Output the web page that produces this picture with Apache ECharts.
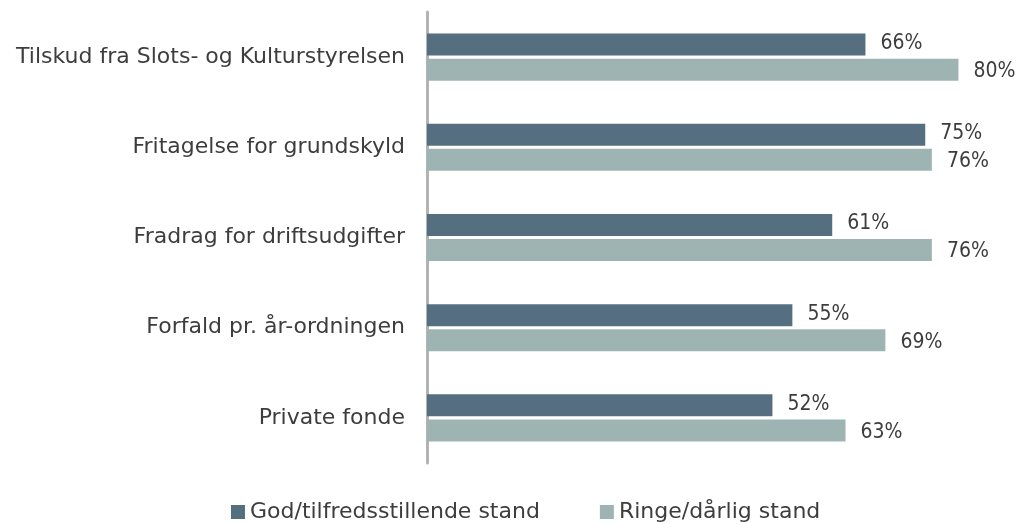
<!DOCTYPE html>
<html>
<head>
<meta charset="utf-8">
<script src="https://cdn.jsdelivr.net/npm/echarts@6/dist/echarts.min.js"></script>
<style>
	html, body { margin: 0; padding: 0; background: #fff; }
	#chart { width: 1016px; height: 524px; }
</style>
</head>
<body>
<div id="chart"></div>
<script>
var categories = ['Tilskud fra Slots- og Kulturstyrelsen', 'Fritagelse for grundskyld', 'Fradrag for driftsudgifter', 'Forfald pr. år-ordningen', 'Private fonde'];
var seriesNames = ['God/tilfredsstillende stand', 'Ringe/dårlig stand'];
var godValues = [66, 75, 61, 55, 52];
var ringeValues = [80, 76, 76, 69, 63];

var FONT = '"DejaVu Sans", Verdana, sans-serif';
var NUM_FONT = '"DejaVu Sans Condensed", "DejaVu Sans", sans-serif';
var TEXT_COLOR = '#3d3d3d';

function loadGraph() {
	var dom = document.getElementById('chart');
	var myChart = echarts.init(dom, null, { renderer: 'canvas' });

	var valueLabel = function (dy) {
		return {
			show: true,
			position: 'right',
			distance: 15,
			formatter: '{c}%',
			fontFamily: NUM_FONT,
			fontSize: 21,
			color: TEXT_COLOR,
			offset: [0, dy]
		};
	};

	var option = {
		animation: false,
		backgroundColor: '#fff',
		textStyle: { fontFamily: FONT },
		legend: {
			data: seriesNames,
			top: 496,
			left: 226,
			itemWidth: 14,
			itemHeight: 14,
			itemGap: 60,
			icon: 'rect',
			textStyle: { fontFamily: FONT, fontSize: 22, color: TEXT_COLOR }
		},
		grid: {
			left: 427,
			top: 12,
			height: 451,
			width: 584.6,
			containLabel: false
		},
		xAxis: {
			type: 'value',
			min: 0,
			max: 88,
			show: false
		},
		yAxis: {
			type: 'category',
			data: categories,
			inverse: true,
			axisLine: { show: true, lineStyle: { color: '#b3b3b3', width: 3 } },
			axisTick: { show: false },
			axisLabel: {
				margin: 22,
				fontFamily: FONT,
				fontSize: 22,
				color: TEXT_COLOR
			}
		},
		series: [
			{
				name: seriesNames[0],
				type: 'bar',
				data: godValues,
				barWidth: 22,
				barGap: '14%',
				color: '#566f80',
				label: valueLabel(-1)
			},
			{
				name: seriesNames[1],
				type: 'bar',
				data: ringeValues,
				barWidth: 22,
				color: '#9eb4b3',
				label: valueLabel(2)
			}
		]
	};

	myChart.setOption(option, true);
}

loadGraph();
</script>
</body>
</html>
